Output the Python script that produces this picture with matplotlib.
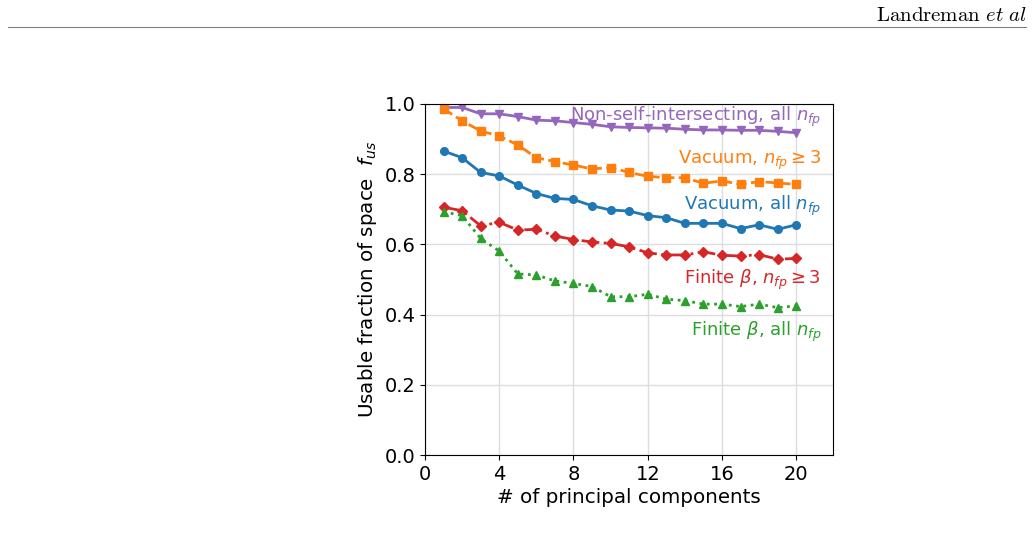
import matplotlib
matplotlib.use('Agg')
import matplotlib.pyplot as plt
from matplotlib.lines import Line2D

n_pc = list(range(1, 21))

nonself_all = [0.990, 0.990, 0.972, 0.972, 0.964, 0.954, 0.952, 0.947, 0.942, 0.935,
               0.933, 0.932, 0.931, 0.928, 0.926, 0.926, 0.925, 0.925, 0.922, 0.918]
vacuum_nfp3 = [0.986, 0.952, 0.923, 0.909, 0.883, 0.847, 0.836, 0.826, 0.815, 0.819,
               0.805, 0.794, 0.790, 0.790, 0.774, 0.781, 0.771, 0.779, 0.775, 0.771]
vacuum_all = [0.866, 0.847, 0.805, 0.795, 0.769, 0.745, 0.731, 0.728, 0.710, 0.698,
              0.695, 0.682, 0.676, 0.660, 0.660, 0.660, 0.645, 0.656, 0.643, 0.656]
finite_nfp3 = [0.706, 0.696, 0.653, 0.663, 0.641, 0.643, 0.624, 0.614, 0.607, 0.603,
               0.593, 0.576, 0.570, 0.570, 0.579, 0.569, 0.567, 0.571, 0.558, 0.560]
finite_all = [0.693, 0.682, 0.617, 0.581, 0.516, 0.513, 0.496, 0.489, 0.480, 0.451,
              0.451, 0.458, 0.444, 0.440, 0.430, 0.430, 0.423, 0.430, 0.420, 0.425]

series = [
    (nonself_all, 'tab:purple', '-', 'v', r'Non-self-intersecting, all $n_{fp}$', 0.962),
    (vacuum_nfp3, 'tab:orange', '--', 's', r'Vacuum, $n_{fp} \geq 3$', 0.840),
    (vacuum_all, 'tab:blue', '-', 'o', r'Vacuum, all $n_{fp}$', 0.710),
    (finite_nfp3, 'tab:red', '-.', 'D', r'Finite $\beta$, $n_{fp} \geq 3$', 0.499),
    (finite_all, 'tab:green', ':', '^', r'Finite $\beta$, all $n_{fp}$', 0.352),
]

fig = plt.figure(figsize=(10.34, 5.53), dpi=100)
ax = fig.add_axes([0.411, 0.177, 0.395, 0.635])

for vals, col, ls, mk, lab, ytxt in series:
    ax.plot(n_pc, vals, color=col, linestyle=ls, marker=mk, markersize=5.5, linewidth=2)
    ax.text(21.35, ytxt, lab, color=col, fontsize=13, ha='right', va='center')

ax.set_xlim(0, 22)
ax.set_ylim(0, 1)
ax.set_xticks([0, 4, 8, 12, 16, 20])
ax.set_yticks([0, 0.2, 0.4, 0.6, 0.8, 1.0])
ax.tick_params(labelsize=14)
ax.grid(True, color='#dddddd', linewidth=1)
ax.set_axisbelow(True)
ax.set_xlabel('# of principal components', fontsize=14.3, labelpad=3)
ax.set_ylabel(r'Usable fraction of space  $f_{us}$', fontsize=14.3, labelpad=4)

# page header
fig.text(0.993, 0.962, r'$\mathrm{Landreman}\ \mathit{et\ al}$', math_fontfamily='cm',
         fontsize=15, ha='right', va='baseline')
fig.add_artist(Line2D([0.008, 0.992], [0.951, 0.951], color='gray', linewidth=0.8))

fig.savefig('out.png', dpi=100)
